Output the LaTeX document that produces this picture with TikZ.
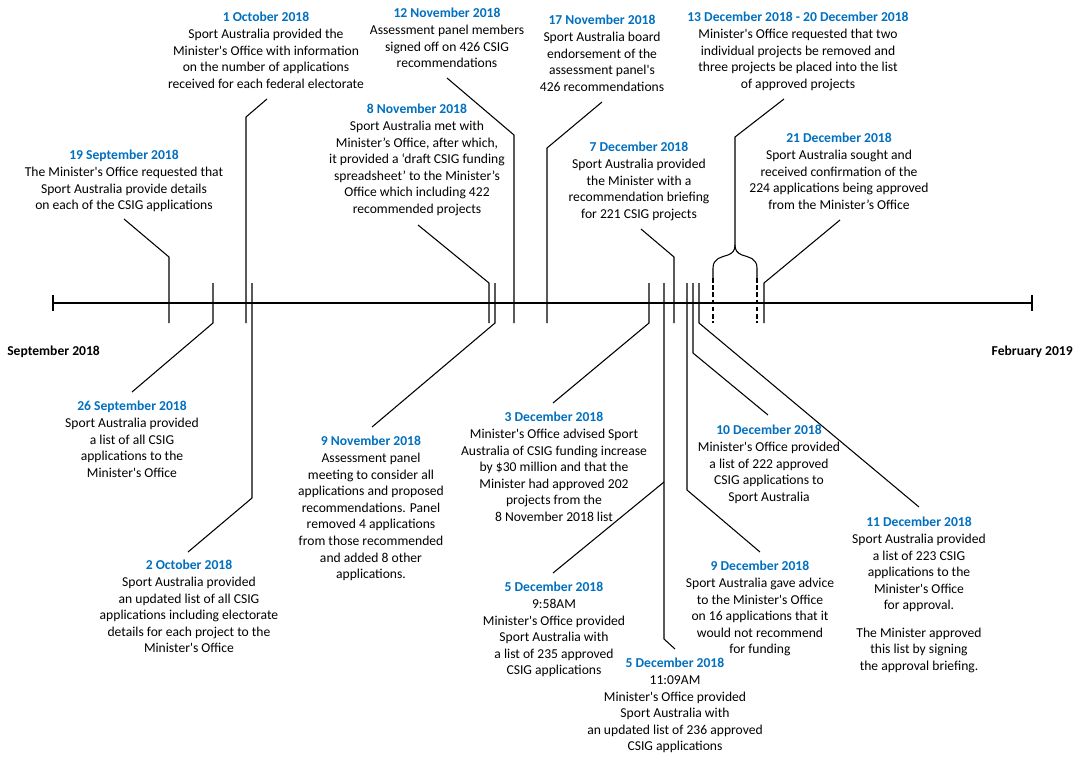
\documentclass[tikz,border=0pt]{standalone}
\usepackage{fontspec}
\newfontfamily\calfont{Carlito}
\definecolor{tblue}{RGB}{0,112,192}
\newcommand\ttl[1]{\textcolor{tblue}{\bfseries #1}}
\tikzset{
  lbl/.style={align=center, inner sep=0pt, anchor=north, font=\calfont\fontsize{10.2}{12.45}\selectfont},
  side/.style={inner sep=0pt, anchor=base west, font=\calfont\bfseries\fontsize{10.2}{12.45}\selectfont},
  lead/.style={line width=0.8pt, line join=miter},
  dsh/.style={line width=0.8pt, dash pattern=on 3.4pt off 2pt},
}
\begin{document}
\begin{tikzpicture}[x=0.75pt,y=-0.75pt]
\useasboundingbox (0,0) rectangle (1081,761);
\fill[white] (0,0) rectangle (1081,761);

% axis
\coordinate (ax0) at (53,303);
\coordinate (ax1) at (1032,303);
\draw[lead] (ax0) -- (ax1);
\draw[lead] (53,295) -- (53,311);
\draw[lead] (1032,295) -- (1032,311);
\node[side] (sep) at (7,355.5) {September 2018};
\node[side, anchor=base east] (feb) at (1073,355.5) {February 2019};

% labels
\node[lbl] (sep19) at (124,150) {\ttl{19 September 2018}\\The Minister's Office requested that\\Sport Australia provide details\\on each of the CSIG applications};
\node[lbl] (oct1) at (266,12) {\ttl{1 October 2018}\\Sport Australia provided the\\Minister's Office with information\\on the number of applications\\received for each federal electorate};
\node[lbl] (nov12) at (447,8) {\ttl{12 November 2018}\\Assessment panel members\\signed off on 426 CSIG\\recommendations};
\node[lbl] (nov17) at (602,15) {\ttl{17 November 2018}\\Sport Australia board\\endorsement of the\\assessment panel's\\426 recommendations};
\node[lbl] (dec13) at (798,12) {\ttl{13 December 2018 - 20 December 2018}\\Minister's Office requested that two\\individual projects be removed and\\three projects be placed into the list\\of approved projects};
\node[lbl] (nov8) at (417,104) {\ttl{8 November 2018}\\Sport Australia met with\\Minister’s Office, after which,\\it provided a ‘draft CSIG funding\\spreadsheet’ to the Minister’s\\Office which including 422\\recommended projects};
\node[lbl] (dec7) at (639,142) {\ttl{7 December 2018}\\Sport Australia provided\\the Minister with a\\recommendation briefing\\for 221 CSIG projects};
\node[lbl] (dec21) at (839,133) {\ttl{21 December 2018}\\Sport Australia sought and\\received confirmation of the\\224 applications being approved\\from the Minister’s Office};
\node[lbl] (sep26) at (132,401) {\ttl{26 September 2018}\\Sport Australia provided\\a list of all CSIG\\applications to the\\Minister's Office};
\node[lbl] (oct2) at (189,560) {\ttl{2 October 2018}\\Sport Australia provided\\an updated list of all CSIG\\applications including electorate\\details for each project to the\\Minister's Office};
\node[lbl] (nov9) at (371,436) {\ttl{9 November 2018}\\Assessment panel\\meeting to consider all\\applications and proposed\\recommendations. Panel\\removed 4 applications\\from those recommended\\and added 8 other\\applications.};
\node[lbl] (dec3) at (554,412) {\ttl{3 December 2018}\\Minister's Office advised Sport\\Australia of CSIG funding increase\\by \$30 million and that the\\Minister had approved 202\\projects from the\\8 November 2018 list};
\node[lbl] (dec10) at (769,425) {\ttl{10 December 2018}\\Minister's Office provided\\a list of 222 approved\\CSIG applications to\\Sport Australia};
\node[lbl] (dec9) at (760,561) {\ttl{9 December 2018}\\Sport Australia gave advice\\to the Minister's Office\\on 16 applications that it\\would not recommend\\for funding};
\node[lbl] (dec11) at (919,517) {\ttl{11 December 2018}\\Sport Australia provided\\a list of 223 CSIG\\applications to the\\Minister's Office\\for approval.\\[8pt]The Minister approved\\this list by signing\\the approval briefing.};
\node[lbl] (dec5a) at (554,582) {\ttl{5 December 2018}\\9:58AM\\Minister's Office provided\\Sport Australia with\\a list of 235 approved\\CSIG applications};
\node[lbl] (dec5b) at (675,658) {\ttl{5 December 2018}\\11:09AM\\Minister's Office provided\\Sport Australia with\\an updated list of 236 approved\\CSIG applications};

% leaders
\draw[lead] (124,219) -- (169,257) -- (169,323);
\draw[lead] (213,283) -- (213,323) -- (132,392);
\draw[lead] (267,99) -- (246,117) -- (246,323);
\draw[lead] (252,283) -- (252,498) -- (188,552);
\draw[lead] (418,225) -- (489,283) -- (489,323);
\draw[lead] (495,283) -- (495,323) -- (372,427);
\draw[lead] (447,78) -- (514,135) -- (514,323);
\draw[lead] (602,102) -- (547,148) -- (547,323);
\draw[lead] (641,229) -- (674,257) -- (674,323);
\draw[lead] (649,283) -- (649,323) -- (553,403);
\draw[lead] (664,283) -- (664,639) -- (675,649);
\draw[lead] (664,482) -- (553,573);
\draw[lead] (687,283) -- (687,490) -- (760,552);
\draw[lead] (693,283) -- (693,353) -- (768,415);
\draw[lead] (699,283) -- (699,323) -- (919,507);
\draw[lead] (840,220) -- (764,283) -- (764,323);

% 13-20 December range with brace
\draw[dsh] (713,278) -- (713,323);
\draw[dsh] (757,278) -- (757,323);
\draw[lead, line join=round] (713,278) -- (713,268) .. controls (713,258) and (722,257) .. (728,255) .. controls (733,253) and (735,250) .. (735,245);
\draw[lead, line join=round] (757,278) -- (757,268) .. controls (757,258) and (748,257) .. (742,255) .. controls (737,253) and (735,250) .. (735,245);
\draw[lead] (735,245) -- (735,137) -- (784,99);
\end{tikzpicture}
\end{document}
